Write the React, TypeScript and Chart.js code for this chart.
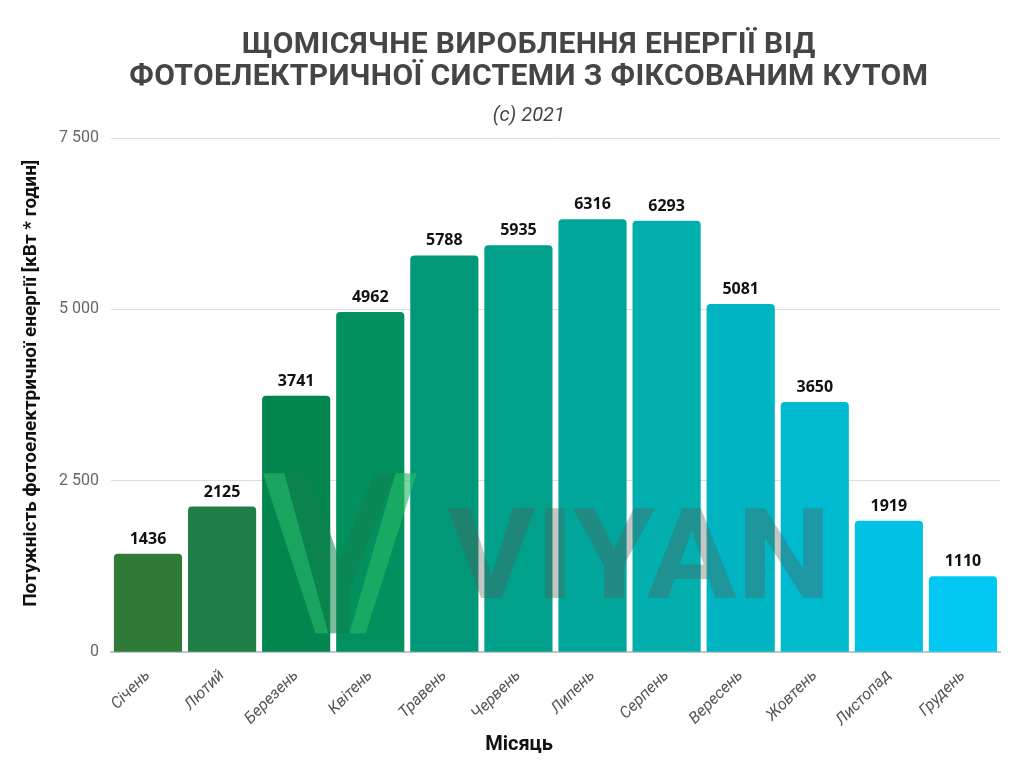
import React, { useEffect, useRef } from "react";
import { Chart, registerables } from "chart.js";

Chart.register(...registerables);

const months = [
  "Січень", "Лютий", "Березень", "Квітень", "Травень", "Червень",
  "Липень", "Серпень", "Вересень", "Жовтень", "Листопад", "Грудень",
];
const energy = [1436, 2125, 3741, 4962, 5788, 5935, 6316, 6293, 5081, 3650, 1919, 1110];
const barColors = [
  "#2f7a36", "#1f7f47", "#03854f", "#02905e", "#009878", "#00a08a",
  "#00a69a", "#00afae", "#00b5c1", "#00bbd0", "#00c2e2", "#00c8f2",
];
const titleLines = ["ЩОМІСЯЧНЕ ВИРОБЛЕННЯ ЕНЕРГІЇ ВІД", "ФОТОЕЛЕКТРИЧНОЇ СИСТЕМИ З ФІКСОВАНИМ КУТОМ"];
const subtitleText = "(c) 2021";
const yTicks = [0, 2500, 5000, 7500];
const yTitle = "Потужність фотоелектричної енергії [кВт * годин]";
const xTitle = "Місяць";
const brandName = "VIYAN";

const fmtThousands = (v: number) => String(v).replace(/\B(?=(\d{3})+(?!\d))/g, " ");

// Value labels above each bar
const valueLabels = {
  id: "valueLabels",
  afterDatasetsDraw(chart: any) {
    const { ctx } = chart;
    const meta = chart.getDatasetMeta(0);
    ctx.save();
    ctx.font = "bold 16px 'Open Sans'";
    ctx.fillStyle = "#111";
    ctx.textAlign = "center";
    ctx.textBaseline = "alphabetic";
    meta.data.forEach((bar: any, i: number) => {
      ctx.fillText(String(energy[i]), bar.x, bar.y - 10);
    });
    ctx.restore();
  },
};

// Heading block and both axis captions
const captions = {
  id: "captions",
  afterDraw(chart: any) {
    const { ctx, chartArea: a } = chart;
    const w = a.right - a.left;
    const h = a.bottom - a.top;
    const cx = a.left + w * 0.47;
    ctx.save();
    ctx.textAlign = "center";
    ctx.textBaseline = "middle";
    ctx.fillStyle = "#454545";
    ctx.font = "bold 30px Roboto";
    (ctx as any).letterSpacing = "0.4px";
    ctx.fillText(titleLines[0], cx, 45);
    ctx.fillText(titleLines[1], cx, 77);
    (ctx as any).letterSpacing = "0px";
    ctx.font = "italic 20px Roboto";
    ctx.fillText(subtitleText, cx, 116);
    ctx.font = "bold 20px Roboto";
    ctx.fillStyle = "#111";
    ctx.fillText(xTitle, a.left + w * 0.459, chart.height - 23);
    // y caption, rotated
    ctx.font = "bold 19px Roboto";
    ctx.translate(31, a.top + h * 0.477);
    ctx.rotate(-Math.PI / 2);
    ctx.fillText(yTitle, 0, 0);
    ctx.restore();
  },
};

// Brand watermark drawn over the bars
const watermark = {
  id: "watermark",
  afterDatasetsDraw(chart: any) {
    const { ctx, chartArea: a } = chart;
    const w = a.right - a.left;
    const h = a.bottom - a.top;
    const px = (f: number) => a.left + f * w;
    const py = (f: number) => a.top + f * h;
    const poly = (pts: number[][], color: string) => {
      ctx.beginPath();
      pts.forEach(([x, y], k) => (k ? ctx.lineTo(px(x), py(y)) : ctx.moveTo(px(x), py(y))));
      ctx.closePath();
      ctx.fillStyle = color;
      ctx.fill();
    };
    ctx.save();
    // logo mark
    const light = "rgba(38,185,104,0.62)";
    const dark = "rgba(16,130,78,0.55)";
    poly([[0.171, 0.652], [0.195, 0.652], [0.2446, 0.963], [0.230, 0.963]], light);
    poly([[0.195, 0.652], [0.223, 0.652], [0.257, 0.82], [0.2965, 0.652], [0.320, 0.652], [0.2683, 0.879], [0.2683, 0.963], [0.2446, 0.963]], dark);
    poly([[0.320, 0.652], [0.344, 0.652], [0.2864, 0.963], [0.2683, 0.963]], light);
    // brand name, fitted to its box
    ctx.font = "bold 128px Roboto";
    ctx.fillStyle = "rgba(90,90,90,0.35)";
    ctx.textBaseline = "alphabetic";
    ctx.textAlign = "left";
    const m = ctx.measureText(brandName);
    const inkW = m.actualBoundingBoxLeft + m.actualBoundingBoxRight;
    const inkH = m.actualBoundingBoxAscent;
    const targetW = (0.8016 - 0.3788) * w;
    const targetH = 0.177 * h;
    ctx.translate(px(0.3788), py(0.895));
    ctx.scale(targetW / inkW, targetH / inkH);
    ctx.fillText(brandName, m.actualBoundingBoxLeft, 0);
    ctx.restore();
  },
};

export default function App() {
  const ref = useRef<HTMLCanvasElement | null>(null);

  useEffect(() => {
    if (!ref.current) return;
    const chart = new Chart(ref.current, {
      type: "bar",
      data: {
        labels: months,
        datasets: [
          {
            data: energy,
            backgroundColor: barColors,
            borderRadius: { topLeft: 4, topRight: 4, bottomLeft: 0, bottomRight: 0 },
            borderSkipped: "bottom",
            barPercentage: 0.92,
            categoryPercentage: 1.0,
          },
        ],
      },
      options: {
        responsive: false,
        animation: false,
        layout: { padding: { left: 47, right: 24, top: 138, bottom: 32 } },
        plugins: {
          legend: { display: false },
          tooltip: { enabled: false },
          title: { display: false },
          subtitle: { display: false },
        },
        scales: {
          x: {
            grid: { display: false },
            border: { display: true, color: "#c4c4c4", width: 2 },
            ticks: {
              color: "#555",
              font: { family: "Roboto", size: 16, style: "italic" },
              minRotation: 45,
              maxRotation: 45,
              padding: 6,
            },
          },
          y: {
            min: 0,
            max: 7500,
            afterBuildTicks: (axis: any) => {
              axis.ticks = yTicks.map((v) => ({ value: v }));
            },
            grid: { color: "#dddddd", drawTicks: false, lineWidth: 1 },
            border: { display: false },
            ticks: {
              color: "#666",
              font: { family: "Roboto", size: 16 },
              padding: 12,
              callback: (v: any) => fmtThousands(Number(v)),
            },
          },
        },
      },
      plugins: [watermark, valueLabels, captions],
    });
    return () => chart.destroy();
  }, []);

  return (
    <div style={{ position: "absolute", left: 0, top: 0, width: 1024, height: 768 }}>
      <canvas ref={ref} width={1024} height={768} />
    </div>
  );
}
